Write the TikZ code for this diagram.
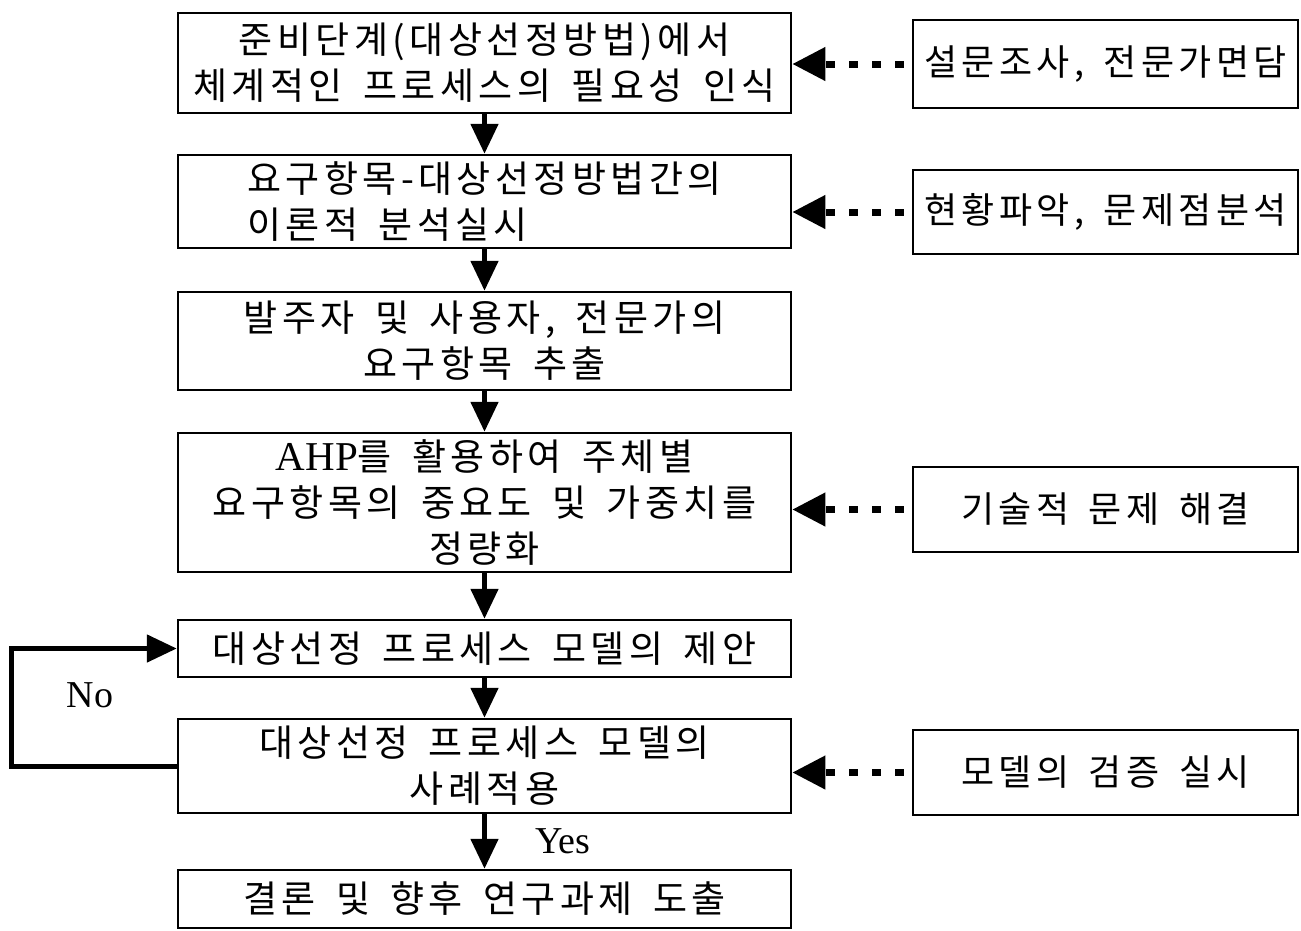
\documentclass[tikz,border=0pt]{standalone}
\usepackage{fontspec}
\setmainfont{Liberation Serif}
\newfontfamily\kr{Noto Sans CJK KR}[LetterSpace=12, WordSpace=1.6]
\usetikzlibrary{arrows.meta}

\begin{document}
\begin{tikzpicture}[x=1pt, y=-1pt, line width=2.5pt,
        main/.style = {draw, rectangle, minimum width=613pt, inner sep=0pt, align=center, font=\kr\fontsize{37}{46}\selectfont},
        side/.style = {draw, rectangle, minimum width=385pt, minimum height=85pt, inner sep=0pt, font=\kr\fontsize{36}{46}\selectfont},
        flow/.style = {-{Triangle[length=30pt, width=27pt]}, line width=5pt},
        hint/.style = {-{Triangle[length=33pt, width=32pt]}, line width=7pt, dash pattern=on 9pt off 14pt, dash phase=15pt},
        lbl/.style = {font=\fontsize{38}{40}\selectfont}]
        \useasboundingbox (0,0) rectangle (1301,930);

        \node[main, minimum height=100pt] (1) at (484.5,63)    {준비단계(대상선정방법)에서\\체계적인 프로세스의 필요성 인식};
        \node[main, minimum height=93pt, align=left] (2) at (484.5,201.5) {요구항목-대상선정방법간의\\이론적 분석실시};
        \node[main, minimum height=98pt] (3) at (484.5,341)    {발주자 및 사용자, 전문가의\\요구항목 추출};
        \node[main, minimum height=139pt] (4) at (484.5,502.5) {{\rmfamily\fontsize{41}{46}\selectfont AHP}를 활용하여 주체별\\요구항목의 중요도 및 가중치를\\정량화};
        \node[main, minimum height=57pt] (5) at (484.5,648.5)  {대상선정 프로세스 모델의 제안};
        \node[main, minimum height=94pt] (6) at (484.5,766)    {대상선정 프로세스 모델의\\사례적용};
        \node[main, minimum height=58pt] (7) at (484.5,899)    {결론 및 향후 연구과제 도출};

        \node[side, minimum height=88pt] (s1) at (1105.5,64) {설문조사, 전문가면담};
        \node[side, minimum height=84pt] (s2) at (1105.5,212) {현황파악, 문제점분석};
        \node[side] (s3) at (1105.5,509.5) {기술적 문제 해결};
        \node[side] (s4) at (1105.5,772.5) {모델의 검증 실시};

        \draw[flow] (1) -- (2);
        \draw[flow] (2) -- (3);
        \draw[flow] (3) -- (4);
        \draw[flow] (4) -- (5);
        \draw[flow] (5) -- (6);
        \draw[flow] (6) -- node[midway, right=45pt, lbl] {Yes} (7);

        % back to the proposal when the case study fails
        \draw[flow] (6.west) -- ++(-165,0) |- (5.west);
        \node[lbl] (no) at (90,695) {No};

        \draw[hint] (s1.west) -- (s1.west -| 1.east);
        \draw[hint] (s2.west) -- (s2.west -| 2.east);
        \draw[hint] (s3.west) -- (s3.west -| 4.east);
        \draw[hint] (s4.west) -- (s4.west -| 6.east);
\end{tikzpicture}
\end{document}
